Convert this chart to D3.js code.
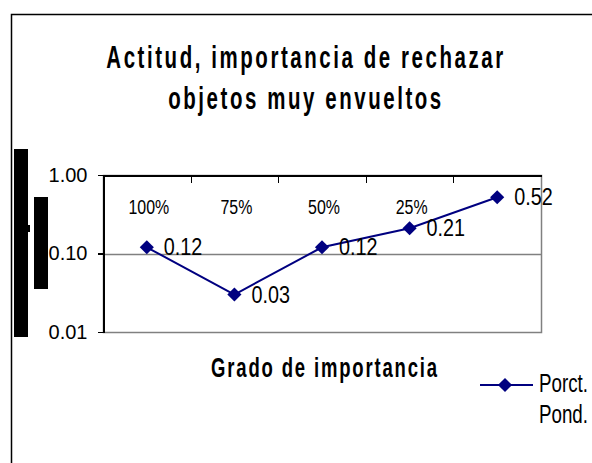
<!DOCTYPE html>
<html lang="es">
<head>
	<meta charset="utf-8">
	<title>Actitud, importancia de rechazar objetos muy envueltos</title>
	<script src="https://d3js.org/d3.v7.min.js"></script>
	<style type="text/css">
		body { margin: 0; background: #ffffff; }
		svg { display: block; font-family: "Liberation Sans", Arial, sans-serif; }
		.axis path, .axis line { fill: none; stroke: #000000; shape-rendering: crispEdges; }
		.axis text { fill: #000000; }
	</style>
</head>
<body>
<script type="text/javascript">

	// Chart data
	var categories = ["100%", "75%", "50%", "25%", ""];
	var values = [0.12, 0.03, 0.12, 0.21, 0.52];
	var yTicks = [0.01, 0.1, 1];
	var titleLines = ["Actitud, importancia de rechazar", "objetos muy envueltos"];
	var xTitle = "Grado de importancia";
	var seriesName = ["Porct.", "Pond."];

	var width = 592, height = 463;
	var plot = {left: 103, right: 541, top: 175, bottom: 332};

	var svg = d3.select("body")
				.append("svg")
				.attr("width", width)
				.attr("height", height);

	// Outer chart frame (runs off the right and bottom)
	svg.append("rect")
		.attr("x", 11.5).attr("y", 14.5)
		.attr("width", 700).attr("height", 600)
		.attr("fill", "#ffffff")
		.attr("stroke", "#000000")
		.attr("stroke-width", 1.5);

	// Title, condensed bold
	svg.selectAll(".title")
		.data(titleLines)
		.enter()
		.append("g")
		.attr("class", "title")
		.attr("transform", function(d, i) { return "translate(306," + (68 + i * 41) + ") scale(0.66,1)"; })
		.append("text")
		.attr("text-anchor", "middle")
		.attr("font-size", "31px")
		.attr("font-weight", "bold")
		.attr("letter-spacing", "3.9px")
		.text(function(d) { return d; });

	// Scales
	var xScale = d3.scaleBand()
					.domain(d3.range(categories.length))
					.range([plot.left, plot.right]);

	var yScale = d3.scaleLog()
					.domain([0.01, 1])
					.range([plot.bottom, plot.top]);

	// Plot area with grey right and bottom edges
	svg.append("rect")
		.attr("x", plot.left + 0.5).attr("y", plot.top + 0.5)
		.attr("width", plot.right - plot.left).attr("height", plot.bottom - plot.top)
		.attr("fill", "#ffffff")
		.attr("stroke", "#808080")
		.attr("stroke-width", 1.5);

	// Gridlines
	svg.selectAll(".grid")
		.data(yTicks.slice(1, -1))
		.enter()
		.append("line")
		.attr("class", "grid")
		.attr("x1", plot.left).attr("x2", plot.right)
		.attr("y1", function(d) { return Math.round(yScale(d)) + 0.5; })
		.attr("y2", function(d) { return Math.round(yScale(d)) + 0.5; })
		.attr("stroke", "#808080")
		.attr("stroke-width", 1.5);

	// Y axis
	var yAxis = d3.axisLeft(yScale)
					.tickValues(yTicks)
					.tickFormat(d3.format(".2f"))
					.tickSize(6)
					.tickSizeOuter(0)
					.tickPadding(10);

	var gy = svg.append("g")
		.attr("class", "axis")
		.attr("transform", "translate(" + (plot.left + 0.5) + ",0)")
		.call(yAxis);
	gy.selectAll("text").attr("font-size", "20px");
	gy.selectAll("line, path").attr("stroke-width", 1.5);

	// X axis along the top, labels sitting inside the plot
	var xAxis = d3.axisBottom(xScale)
					.tickFormat(function(i) { return categories[i]; })
					.tickSize(0)
					.tickSizeOuter(0)
					.tickPadding(24);

	var gx = svg.append("g")
		.attr("class", "axis")
		.attr("transform", "translate(0," + (plot.top + 0.5) + ")")
		.call(xAxis);
	gx.select("path").attr("stroke-width", 1.5);
	gx.selectAll("text")
		.attr("font-size", "21px")
		.attr("transform", "translate(2,0) scale(0.76,1)");

	// Tick marks at category boundaries
	gx.selectAll(".bound")
		.data(d3.range(1, categories.length))
		.enter()
		.append("line")
		.attr("class", "bound")
		.attr("x1", function(i) { return Math.round(xScale(i)) + 0.5; })
		.attr("x2", function(i) { return Math.round(xScale(i)) + 0.5; })
		.attr("y1", 0).attr("y2", 7)
		.attr("stroke-width", 1.5);

	// Series line
	var line = d3.line()
				.x(function(d, i) { return xScale(i) + xScale.bandwidth() / 2; })
				.y(function(d) { return yScale(d); });

	svg.append("path")
		.datum(values)
		.attr("d", line)
		.attr("fill", "none")
		.attr("stroke", "#000080")
		.attr("stroke-width", 2);

	// Diamond marker: a square turned 45 degrees
	var diamond = d3.symbol().type(d3.symbolSquare).size(100);

	svg.selectAll(".marker")
		.data(values)
		.enter()
		.append("path")
		.attr("class", "marker")
		.attr("d", diamond)
		.attr("transform", function(d, i) {
			return "translate(" + (xScale(i) + xScale.bandwidth() / 2) + "," + yScale(d) + ") rotate(45)";
		})
		.attr("fill", "#000080");

	// Data labels
	svg.selectAll(".label")
		.data(values)
		.enter()
		.append("g")
		.attr("class", "label")
		.attr("transform", function(d, i) {
			return "translate(" + (xScale(i) + xScale.bandwidth() / 2 + 17) + "," + (yScale(d) + 8) + ") scale(0.86,1)";
		})
		.append("text")
		.attr("font-size", "23px")
		.text(function(d) { return d3.format(".2f")(d); });

	// X axis title
	svg.append("g")
		.attr("transform", "translate(325,377) scale(0.66,1)")
		.append("text")
		.attr("text-anchor", "middle")
		.attr("font-size", "28px")
		.attr("font-weight", "bold")
		.attr("letter-spacing", "2.8px")
		.text(xTitle);

	// Legend
	var legend = svg.append("g").attr("transform", "translate(480,385)");
	legend.append("line")
		.attr("x1", 0).attr("x2", 53)
		.attr("y1", 0).attr("y2", 0)
		.attr("stroke", "#000080")
		.attr("stroke-width", 2);
	legend.append("path")
		.attr("d", diamond)
		.attr("transform", "translate(25,0) rotate(45)")
		.attr("fill", "#000080");
	legend.selectAll(".lg")
		.data(seriesName)
		.enter()
		.append("g")
		.attr("class", "lg")
		.attr("transform", function(d, i) { return "translate(59," + (7 + i * 31) + ") scale(0.75,1)"; })
		.append("text")
		.attr("font-size", "25px")
		.text(function(d) { return d; });

	// Black blocks over the y axis title area
	var blocks = [[14, 149, 14, 188], [34, 197, 14, 92], [28, 225, 2, 7]];
	svg.selectAll(".block")
		.data(blocks)
		.enter()
		.append("rect")
		.attr("class", "block")
		.attr("x", function(d) { return d[0]; })
		.attr("y", function(d) { return d[1]; })
		.attr("width", function(d) { return d[2]; })
		.attr("height", function(d) { return d[3]; })
		.attr("fill", "#000000");

</script>
</body>
</html>
